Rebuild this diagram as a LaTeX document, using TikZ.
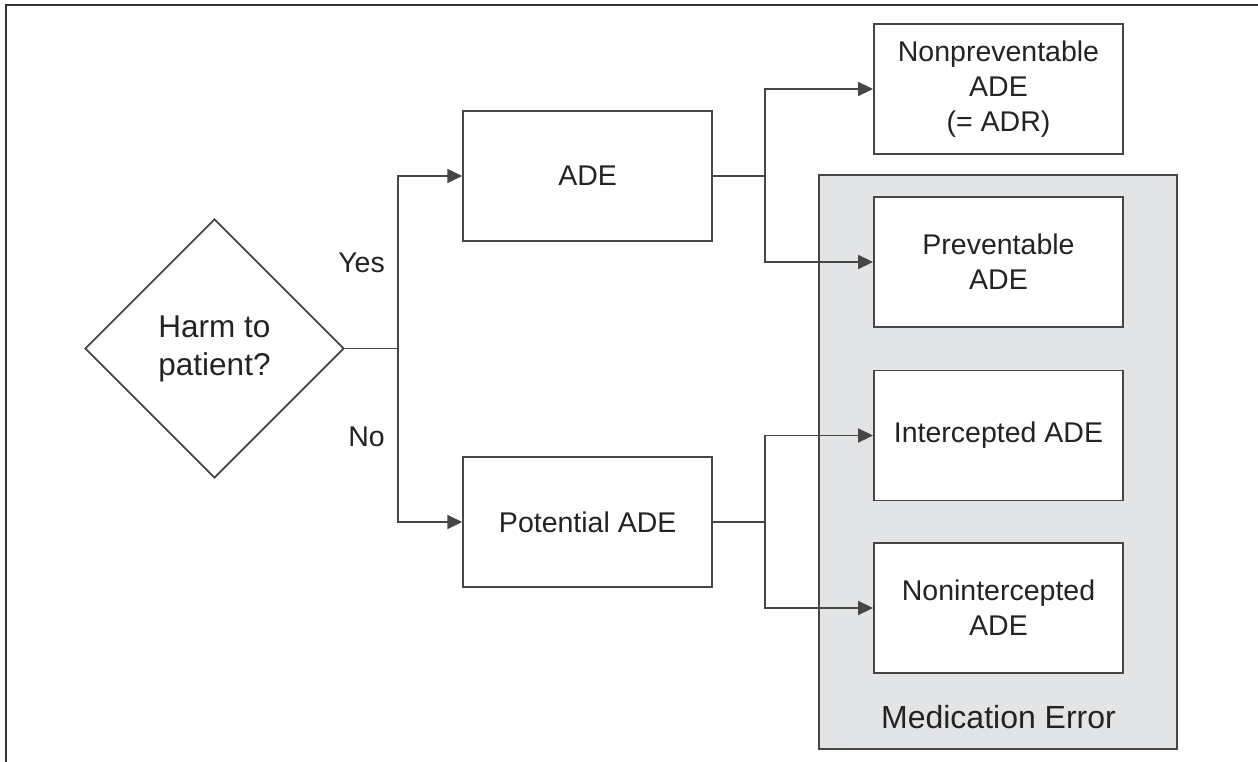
\documentclass[tikz,border=0pt]{standalone}
\usepackage{fontspec}
\setmainfont{Liberation Sans}
\usetikzlibrary{shapes.geometric,arrows.meta}
\definecolor{linec}{RGB}{70,70,70}
\definecolor{textc}{RGB}{35,35,35}
\definecolor{grayfill}{RGB}{227,228,230}
\tikzset{
  box/.style={draw=linec, line width=1.9pt, fill=white, rectangle, minimum width=249pt, minimum height=130pt, inner sep=0pt, align=center, text=textc, font=\fontsize{28.5}{35}\selectfont},
  conn/.style={draw=linec, line width=1.9pt},
  arr/.style={conn, -{Triangle[length=15pt,width=14pt]}},
  lbl/.style={text=textc, font=\fontsize{28.5}{35}\selectfont, inner sep=0pt}
}
\begin{document}
\begin{tikzpicture}[x=1pt,y=-1pt]
\useasboundingbox (0,0) rectangle (1258,762);
% frame
\draw[line width=2.4pt, draw=black!80] (6,762) -- (6,5) -- (1258,5);
% medication error region
\node[draw=linec, line width=1.9pt, fill=grayfill, rectangle, minimum width=358pt, minimum height=574pt, inner sep=0pt] (merr) at (998,462) {};
\node[lbl, font=\fontsize{32}{38}\selectfont] (merrlbl) at (998.5,717) {Medication Error};
% decision
\node[draw=linec, line width=1.9pt, shape=diamond, aspect=1, minimum width=259pt, minimum height=259pt, inner sep=0pt, align=center, text=textc, font=\fontsize{31.5}{38}\selectfont] (dia) at (214.5,348.5) {Harm to\\patient?};
% boxes
\node[box] (ade) at (587.7,176) {ADE};
\node[box] (pot) at (587.7,522) {Potential ADE};
\node[box] (nonprev) at (998.5,89) {Nonpreventable\\ADE\\(= ADR)};
\node[box] (prev) at (998.5,262) {Preventable\\ADE};
\node[box] (inter) at (998.5,435.5) {Intercepted ADE};
\node[box] (nonint) at (998.5,608) {Nonintercepted\\ADE};
% connectors
\coordinate (s1) at (398,348.5);
\coordinate (s2) at (765,176);
\coordinate (s3) at (765,522);
\draw[conn] (dia.east) -- (s1);
\draw[arr] (s1) |- (ade.west);
\draw[arr] (s1) |- (pot.west);
\draw[conn] (ade.east) -- (s2);
\draw[arr] (s2) |- (nonprev.west);
\draw[arr] (s2) |- (prev.west);
\draw[conn] (pot.east) -- (s3);
\draw[arr] (s3) |- (inter.west);
\draw[arr] (s3) |- (nonint.west);
% labels
\node[lbl, anchor=east] (yes) at (385,263) {Yes};
\node[lbl, anchor=east] (no) at (385,437) {No};
\end{tikzpicture}
\end{document}
